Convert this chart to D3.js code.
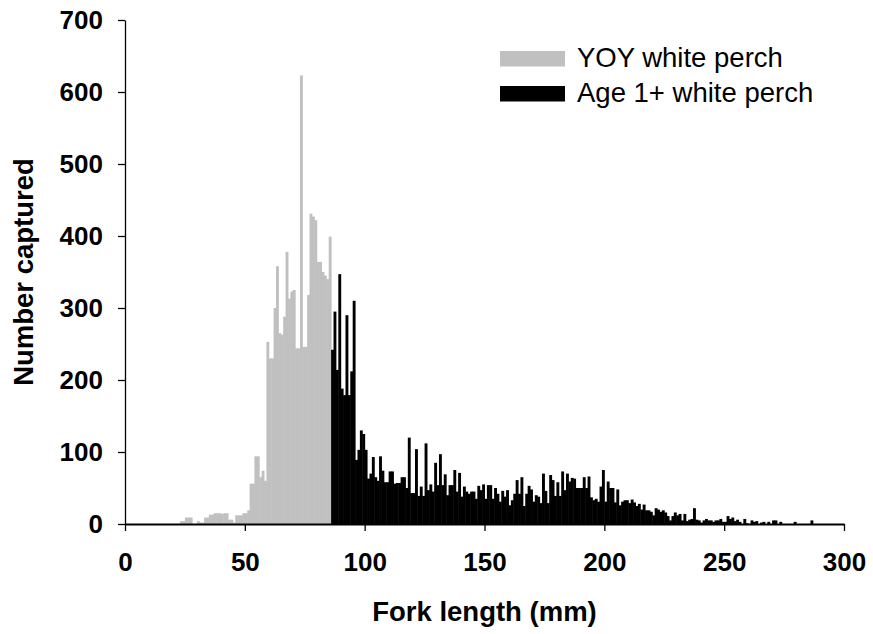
<!DOCTYPE html>
<html lang="en">
<head>
    <meta charset="UTF-8">
    <title>Fork length of white perch</title>
    <script src="https://d3js.org/d3.v7.min.js"></script>
    <style>
        body {
            margin: 0;
            background: #fff;
        }
        svg {
            display: block;
            font-family: "Liberation Sans", Arial, sans-serif;
        }
        .axis text {
            font-size: 26px;
            font-weight: bold;
            fill: #000;
        }
        .axis line, .axis path {
            stroke: #000;
        }
        .axis-title {
            font-size: 27.5px;
            font-weight: bold;
        }
        .legend-text {
            font-size: 27.5px;
        }
    </style>
</head>
<body>
    <div id="chart"></div>

    <script>
        // counts per 1 mm fork length bin
        const yoyStart = 20;   // YOY bins: 20..85 mm
        const yoyCounts = [
            0, 0, 0, 4, 4, 9, 9, 9, 0, 0,
            4, 2, 2, 9, 9, 13, 13, 15, 15, 15,
            14, 15, 15, 6, 6, 2, 12, 12, 12, 15,
            15, 19, 56, 56, 94, 94, 65, 74, 60, 253,
            230, 230, 300, 358, 265, 263, 288, 378, 313, 323,
            325, 244, 244, 623, 246, 246, 318, 431, 427, 422,
            364, 364, 350, 345, 340, 399
        ];

        const adultStart = 86; // Age 1+ bins: 86..286 mm
        const adultCounts = [
            242, 295, 214, 347, 188, 179, 290, 179, 212, 310,
            89, 103, 130, 125, 103, 63, 70, 93, 65, 60,
            94, 74, 58, 58, 73, 73, 56, 57, 57, 65,
            65, 50, 120, 43, 43, 104, 39, 52, 39, 112,
            47, 55, 45, 85, 54, 97, 54, 69, 40, 54,
            54, 75, 45, 71, 38, 52, 45, 42, 45, 45,
            35, 53, 47, 55, 35, 54, 54, 35, 50, 42,
            31, 46, 38, 47, 26, 33, 42, 61, 42, 65,
            25, 42, 53, 48, 31, 40, 38, 29, 70, 46,
            29, 68, 61, 39, 58, 39, 73, 47, 70, 59,
            64, 63, 50, 50, 50, 65, 50, 66, 37, 33,
            35, 31, 52, 75, 31, 59, 50, 50, 30, 48,
            26, 31, 33, 33, 29, 34, 30, 25, 28, 20,
            27, 19, 19, 17, 12, 22, 20, 17, 19, 16,
            11, 5, 11, 16, 12, 14, 5, 14, 4, 6,
            7, 22, 6, 5, 2, 5, 7, 5, 5, 3,
            5, 5, 7, 3, 3, 11, 7, 9, 4, 6,
            3, 0, 7, 1, 0, 5, 3, 4, 0, 2,
            3, 0, 3, 0, 5, 5, 0, 3, 0, 0,
            0, 0, 0, 3, 0, 0, 0, 0, 0, 0,
            5
        ];

        const xTicks = [0, 50, 100, 150, 200, 250, 300];
        const yTicks = [0, 100, 200, 300, 400, 500, 600, 700];
        const seriesNames = ["YOY white perch", "Age 1+ white perch"];
        const seriesColors = ["#c0c0c0", "#000000"];

        const W = 873, H = 634;
        const plot = {left: 125, right: 844, top: 20, bottom: 524};

        const x = d3.scaleLinear().domain([0, 300]).range([plot.left, plot.right]);
        const y = d3.scaleLinear().domain([0, 700]).range([plot.bottom, plot.top]);

        const yoy = yoyCounts.map((n, i) => ({mm: yoyStart + i, n: n}));
        const adult = adultCounts.map((n, i) => ({mm: adultStart + i, n: n}));

        const svg = d3.select("#chart").append("svg")
            .attr("width", W)
            .attr("height", H);

        // bars (a little overlap so neighbours don't show seams)
        [yoy, adult].forEach((series, si) => {
            svg.append("g")
                .selectAll("rect")
                .data(series.filter(d => d.n > 0))
                .join("rect")
                .attr("x", d => x(d.mm))
                .attr("width", d => x(d.mm + 1) - x(d.mm) + 0.5)
                .attr("y", d => y(d.n))
                .attr("height", d => y(0) - y(d.n))
                .attr("fill", seriesColors[si]);
        });

        // axes
        const yAxis = svg.append("g")
            .attr("class", "axis")
            .attr("transform", `translate(${plot.left},0)`)
            .call(d3.axisLeft(y).tickValues(yTicks).tickSize(7).tickSizeOuter(0).tickPadding(15));
        yAxis.selectAll("line, path").attr("stroke-width", 1.3);

        const xAxis = svg.append("g")
            .attr("class", "axis")
            .attr("transform", `translate(0,${plot.bottom})`)
            .call(d3.axisBottom(x).tickValues(xTicks).tickSize(7).tickSizeOuter(0).tickPadding(22));
        xAxis.select("path").attr("stroke-width", 2);
        xAxis.selectAll("line").attr("stroke-width", 1.3);

        // axis titles
        svg.append("text")
            .attr("class", "axis-title")
            .attr("x", (plot.left + plot.right) / 2)
            .attr("y", 621)
            .attr("text-anchor", "middle")
            .text("Fork length (mm)");

        svg.append("text")
            .attr("class", "axis-title")
            .attr("transform", `translate(33,${(plot.top + plot.bottom) / 2}) rotate(-90)`)
            .attr("text-anchor", "middle")
            .text("Number captured");

        // legend
        const legend = svg.append("g").attr("transform", "translate(500,51)");
        seriesNames.forEach((name, i) => {
            legend.append("rect")
                .attr("x", 0)
                .attr("y", i * 35)
                .attr("width", 65)
                .attr("height", 15.5)
                .attr("fill", seriesColors[i]);
            legend.append("text")
                .attr("class", "legend-text")
                .attr("x", 77)
                .attr("y", i * 35 + 16)
                .text(name);
        });
    </script>
</body>
</html>
